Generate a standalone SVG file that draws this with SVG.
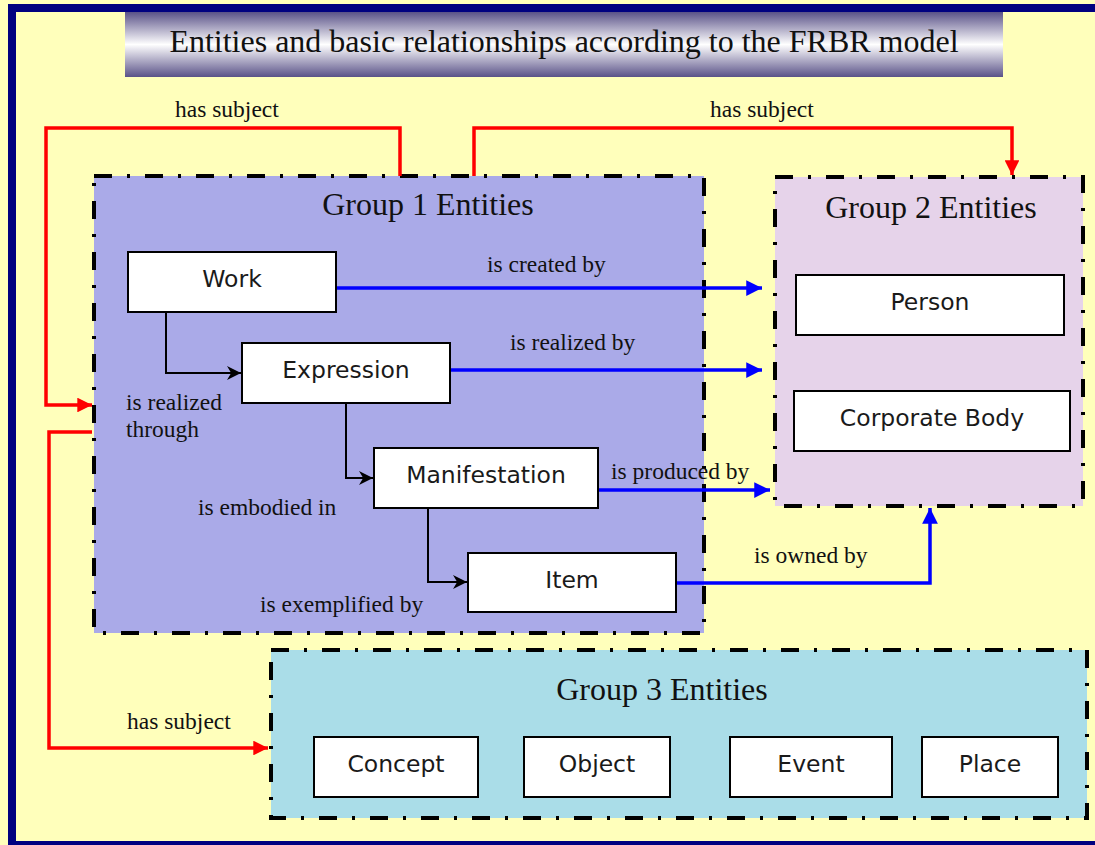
<svg xmlns="http://www.w3.org/2000/svg" width="1095" height="845" viewBox="0 0 1095 845">
<defs>
<linearGradient id="banner" x1="0" y1="0" x2="0" y2="1">
<stop offset="0" stop-color="#5a5288"/>
<stop offset="0.5" stop-color="#ffffff"/>
<stop offset="1" stop-color="#5a5288"/>
</linearGradient>
<marker id="ar" viewBox="0 0 10 10" refX="10" refY="5" markerWidth="4.5" markerHeight="4.2" markerUnits="strokeWidth" orient="auto"><path d="M0,0 L10,5 L0,10 z" fill="#ff0000"/></marker>
<marker id="ab" viewBox="0 0 10 10" refX="10" refY="5" markerWidth="5" markerHeight="4.5" markerUnits="strokeWidth" orient="auto"><path d="M0,0 L10,5 L0,10 z" fill="#0000ff"/></marker>
<marker id="ak" viewBox="0 0 10 10" refX="10" refY="5" markerWidth="8" markerHeight="7" markerUnits="strokeWidth" orient="auto"><path d="M0,0 L10,5 L0,10 L3,5 z" fill="#000"/></marker>
</defs>
<style>
.grp{stroke:#000;stroke-width:4;stroke-dasharray:18 15 3 15;}
.node{fill:#fff;stroke:#000;stroke-width:2;}
.nt{font-family:"DejaVu Sans",Verdana,sans-serif;font-size:23.5px;fill:#1a1a1a;text-anchor:middle;}
.gt{font-family:"Liberation Serif","Times New Roman",serif;font-size:32px;fill:#111;text-anchor:middle;}
.lb{font-family:"Liberation Serif","Times New Roman",serif;font-size:23.5px;fill:#111;}
.red{fill:none;stroke:#ff0000;stroke-width:3.5;marker-end:url(#ar);}
.blue{fill:none;stroke:#0000ff;stroke-width:3.5;marker-end:url(#ab);}
.blk{fill:none;stroke:#000;stroke-width:2;marker-end:url(#ak);}
</style>
<rect x="0" y="0" width="1095" height="845" fill="#ffffbb"/>
<rect x="12" y="8" width="1100" height="837" fill="#ffffbb" stroke="#000080" stroke-width="8"/>
<g id="title">
<rect x="125" y="12" width="878" height="65" fill="url(#banner)"/>
<text x="564" y="52" class="gt">Entities and basic relationships according to the FRBR model</text>
</g>
<g id="group1">
<rect x="94" y="176" width="610" height="457" fill="#aaaae8" class="grp"/>
<text x="428" y="215" class="gt">Group 1 Entities</text>
</g>
<g id="group2">
<rect x="775" y="177" width="308" height="329" fill="#e6d3ea" class="grp"/>
<text x="931" y="218" class="gt">Group 2 Entities</text>
</g>
<g id="group3">
<rect x="271" y="650" width="816" height="168" fill="#aadde8" class="grp"/>
<text x="662" y="700" class="gt">Group 3 Entities</text>
</g>
<g id="connectors">
<path class="red" d="M400,176 V128 H46 V405 H92"/>
<path class="red" d="M474,176 V128 H1012 V175"/>
<path class="red" d="M92,432 H49 V748 H268"/>
<path class="blk" d="M166,312 V373 H241"/>
<path class="blk" d="M346,403 V478 H373"/>
<path class="blk" d="M428,508 V582 H467"/>
<path class="blue" d="M337,288 H762"/>
<path class="blue" d="M451,370 H762"/>
<path class="blue" d="M599,490 H770"/>
<path class="blue" d="M677,583 H930 V508"/>
</g>
<g id="labels">
<text x="175" y="117" class="lb">has subject</text>
<text x="710" y="117" class="lb">has subject</text>
<text x="487" y="272" class="lb">is created by</text>
<text x="510" y="350" class="lb">is realized by</text>
<text x="126" y="410" class="lb">is realized</text>
<text x="126" y="437" class="lb">through</text>
<text x="198" y="515" class="lb">is embodied in</text>
<text x="611" y="479" class="lb">is produced by</text>
<text x="754" y="563" class="lb">is owned by</text>
<text x="260" y="612" class="lb">is exemplified by</text>
<text x="127" y="729" class="lb">has subject</text>
</g>
<g id="work"><rect class="node" x="128" y="252" width="208" height="60"/><text class="nt" x="232" y="287">Work</text></g>
<g id="expression"><rect class="node" x="242" y="343" width="208" height="60"/><text class="nt" x="346" y="378">Expression</text></g>
<g id="manifestation"><rect class="node" x="374" y="448" width="224" height="60"/><text class="nt" x="486" y="483">Manifestation</text></g>
<g id="item"><rect class="node" x="468" y="553" width="208" height="59"/><text class="nt" x="572" y="588">Item</text></g>
<g id="person"><rect class="node" x="796" y="275" width="268" height="60"/><text class="nt" x="930" y="310">Person</text></g>
<g id="corporate-body"><rect class="node" x="794" y="391" width="276" height="60"/><text class="nt" x="932" y="426">Corporate Body</text></g>
<g id="concept"><rect class="node" x="314" y="737" width="164" height="60"/><text class="nt" x="396" y="772">Concept</text></g>
<g id="object"><rect class="node" x="524" y="737" width="146" height="60"/><text class="nt" x="597" y="772">Object</text></g>
<g id="event"><rect class="node" x="730" y="737" width="162" height="60"/><text class="nt" x="811" y="772">Event</text></g>
<g id="place"><rect class="node" x="922" y="737" width="136" height="60"/><text class="nt" x="990" y="772">Place</text></g>
</svg>
